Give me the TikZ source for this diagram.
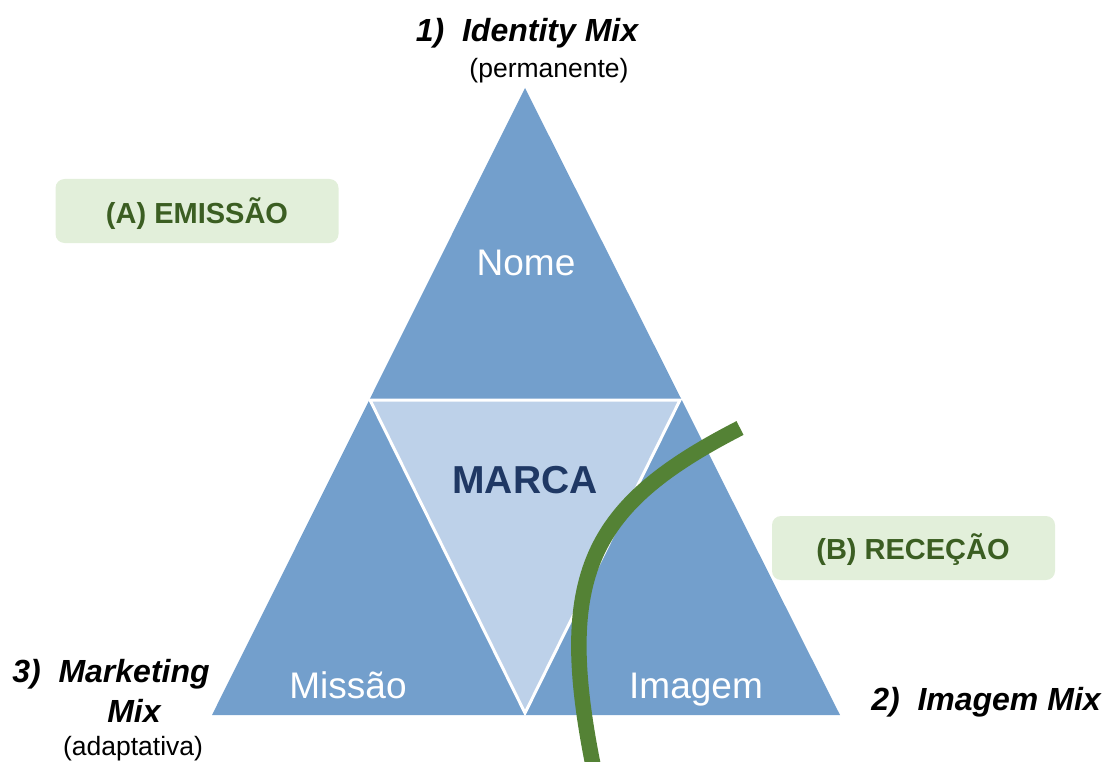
\documentclass[tikz,border=0pt]{standalone}
\usepackage{fontspec}
\setmainfont{Liberation Sans}
\definecolor{triblue}{HTML}{739FCC}
\definecolor{midblue}{HTML}{BDD1E9}
\definecolor{navy}{HTML}{1F3864}
\definecolor{boxgreen}{HTML}{E2EFDA}
\definecolor{txtgreen}{HTML}{3B5E22}
\definecolor{arcgreen}{HTML}{548235}
\begin{document}
\begin{tikzpicture}[x=1pt,y=-1pt,
  lbl/.style={text=white,font=\fontsize{37}{44}\selectfont,inner sep=0,anchor=base},
  head/.style={font=\bfseries\itshape\fontsize{32}{38}\selectfont,inner sep=0,anchor=base},
  sub/.style={font=\fontsize{26.5}{32}\selectfont,inner sep=0,anchor=base},
  tagbox/.style={fill=boxgreen,rounded corners=9pt,minimum width=283pt,minimum height=64pt,inner sep=0},
  tagtext/.style={text=txtgreen,font=\bfseries\fontsize{29}{34}\selectfont,inner sep=0,anchor=base}]
\useasboundingbox (0,0) rectangle (1107,762);
\clip (0,0) rectangle (1107,762);
% triangles
\fill[triblue] (525,88) -- (840,715) -- (212,715) -- cycle;
\filldraw[fill=midblue,draw=white,line width=3pt,line join=miter] (370,400) -- (680,400) -- (525,713) -- cycle;
% labels in triangles
\node[lbl] (nome) at (526,275) {Nome};
\node[inner sep=0,anchor=base,text=navy,font=\bfseries\fontsize{39}{46}\selectfont] (marca) at (525,493) {MARCA};
\node[lbl] (missao) at (348,698) {Missão};
\node[lbl] (imagem) at (696,698) {Imagem};
% green tags
\node[tagbox] (boxA) at (197,211) {};
\node[tagtext] (tagA) at (197,223) {(A) EMISSÃO};
\node[tagbox] (boxB) at (913.5,548) {};
\node[tagtext] (tagB) at (913,559) {(B) RECEÇÃO};
% arc
\coordinate (arcA) at (740,428);
\coordinate (arcB) at (594,770);
\draw[arcgreen,line width=15.5pt] (arcA) .. controls (590,505) and (554,574) .. (arcB);
% outer headings
\node[head] (h1) at (527,42) {1)\ \ Identity Mix};
\node[sub] (s1) at (549,78) {(permanente)};
\node[head] (h2) at (986,710) {2)\ \ Imagem Mix};
\node[head] (h3) at (111,682) {3)\ \ Marketing};
\node[head] (h3b) at (134,722) {Mix};
\node[sub] (s3) at (133,755) {(adaptativa)};
\end{tikzpicture}
\end{document}
